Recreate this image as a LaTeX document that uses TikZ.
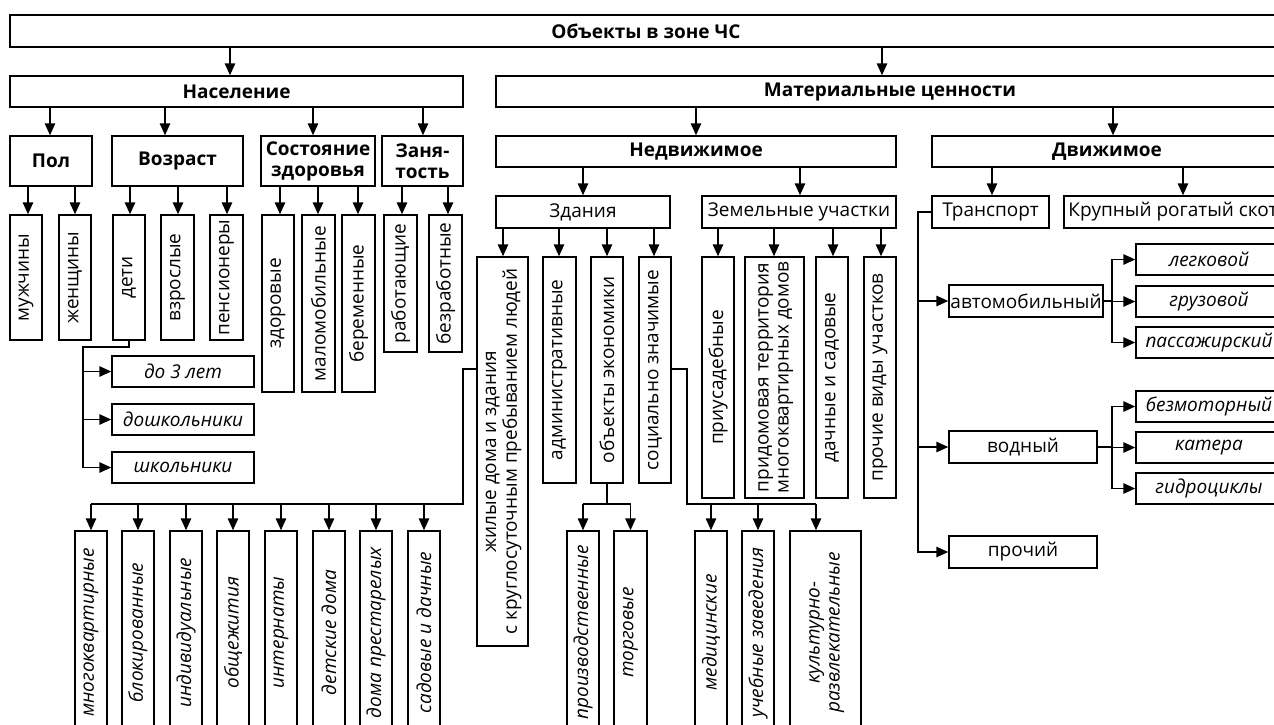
\documentclass[tikz,border=0pt]{standalone}
\usepackage{fontspec}
\setmainfont{Open Sans}
\usepackage{graphicx}
\usetikzlibrary{arrows.meta,calc}
\newcommand\bx[7]{\node[#6, minimum width={#4-#2}, minimum height={#5-#3}] (#1) at ({(#2+#4)/2},{(#3+#5)/2}) {#7};}
\newcommand\vt[1]{\rotatebox{90}{#1}}
\newcommand\vtt[2]{\rotatebox{90}{\begin{tabular}{@{}c@{}}#1\\#2\end{tabular}}}
\begin{document}
\begin{tikzpicture}[x=1pt,y=-1pt, font=\fontsize{19}{20}\selectfont,
 box/.style={draw, inner sep=0pt, line width=1.5pt, align=center},
 bb/.style={box, font=\fontsize{19}{21}\selectfont\bfseries},
 rb/.style={box},
 ib/.style={box, font=\fontsize{19}{20}\selectfont\itshape},
 arr/.style={-{Triangle[length=12pt,width=10.5pt]}, line width=1.5pt},
 ln/.style={line width=1.5pt}]
\useasboundingbox (0,0) rectangle (1274,724);
\clip (0,0) rectangle (1274,724);
% level 0-2
\bx{obj}{10}{15}{1282}{47}{bb}{Объекты в зоне ЧС}
\bx{nas}{10}{76}{463}{107}{bb}{Население}
\bx{mat}{496}{76}{1284}{107}{bb}{Материальные ценности}
\bx{pol}{10}{136}{92}{186}{bb}{Пол}
\bx{voz}{112}{136}{243}{186}{bb}{Возраст}
\bx{sost}{261}{136}{375}{186}{bb}{Состояние\\здоровья}
\bx{zan}{382}{136}{463}{186}{bb}{Заня-\\тость}
\bx{nedv}{496}{136}{896}{167}{bb}{Недвижимое}
\bx{dviz}{932}{136}{1282}{167}{bb}{Движимое}
\bx{zd}{496}{196}{670}{228}{rb}{Здания}
\bx{zem}{702}{196}{896}{228}{rb}{Земельные участки}
\bx{tr}{932}{196}{1049}{228}{rb}{Транспорт}
\bx{krs}{1064}{196}{1282}{228}{rb}{Крупный рогатый скот}
% population leaves
\bx{m1}{10}{215}{42}{340}{rb}{\vt{мужчины}}
\bx{m2}{59}{215}{91}{340}{rb}{\vt{женщины}}
\bx{a1}{113}{215}{145}{340}{rb}{\vt{дети}}
\bx{a2}{161}{215}{194}{340}{rb}{\vt{взрослые}}
\bx{a3}{210}{215}{243}{340}{rb}{\vt{пенсионеры}}
\bx{h1}{262}{215}{294}{392}{rb}{\vt{здоровые}}
\bx{h2}{302}{215}{335}{392}{rb}{\vt{маломобильные}}
\bx{h3}{342}{215}{375}{392}{rb}{\vt{беременные}}
\bx{e1}{384}{215}{417}{352}{rb}{\vt{работающие}}
\bx{e2}{429}{215}{462}{352}{rb}{\vt{безработные}}
\bx{d1}{112}{356}{254}{387}{ib}{до 3 лет}
\bx{d2}{112}{404}{254}{435}{ib}{дошкольники}
\bx{d3}{112}{452}{254}{483}{ib}{школьники}
% buildings
\bx{b1}{477}{257}{528}{646}{rb}{\vtt{жилые дома и здания}{с круглосуточным пребыванием людей}}
\bx{b2}{543}{257}{576}{483}{rb}{\vt{административные}}
\bx{b3}{591}{257}{623}{483}{rb}{\vt{объекты экономики}}
\bx{b4}{639}{257}{671}{483}{rb}{\vt{социально значимые}}
\bx{z1}{702}{257}{734}{498}{rb}{\vt{приусадебные}}
\bx{z2}{745}{257}{804}{498}{rb}{\vtt{придомовая территория}{многоквартирных домов}}
\bx{z3}{816}{257}{848}{498}{rb}{\vt{дачные и садовые}}
\bx{z4}{864}{257}{896}{498}{rb}{\vt{прочие виды участков}}
% bottom row
\bx{l1}{75}{531}{107}{734}{ib}{\vt{многоквартирные}}
\bx{l2}{122}{531}{154}{734}{ib}{\vt{блокированные}}
\bx{l3}{170}{531}{202}{734}{ib}{\vt{индивидуальные}}
\bx{l4}{217}{531}{249}{734}{ib}{\vt{общежития}}
\bx{l5}{265}{531}{297}{734}{ib}{\vt{интернаты}}
\bx{l6}{313}{531}{345}{734}{ib}{\vt{детские дома}}
\bx{l7}{360}{531}{392}{734}{ib}{\vt{дома престарелых}}
\bx{l8}{408}{531}{440}{734}{ib}{\vt{садовые и дачные}}
\bx{p1}{567}{531}{599}{734}{ib}{\vt{производственные}}
\bx{p2}{614}{531}{647}{734}{ib}{\vt{торговые}}
\bx{s1}{695}{531}{727}{734}{ib}{\vt{медицинские}}
\bx{s2}{742}{531}{774}{734}{ib}{\vt{учебные заведения}}
\bx{s3}{790}{531}{861}{734}{ib}{\vtt{культурно-}{развлекательные}}
% transport
\bx{av}{949}{285}{1103}{317}{rb}{автомобильный}
\bx{vo}{949}{431}{1097}{463}{rb}{водный}
\bx{pr}{949}{536}{1097}{568}{rb}{прочий}
\bx{c1}{1136}{244}{1282}{275}{ib}{легковой}
\bx{c2}{1136}{286}{1282}{317}{ib}{грузовой}
\bx{c3}{1136}{327}{1282}{358}{ib}{пассажирский}
\bx{w1}{1136}{391}{1282}{422}{ib}{безмоторный}
\bx{w2}{1136}{432}{1282}{463}{ib}{катера}
\bx{w3}{1136}{473}{1282}{504}{ib}{гидроциклы}
% straight tree arrows
\foreach \p/\c/\x in {obj/nas/230, obj/mat/882, nas/pol/50, nas/voz/165, nas/sost/313, nas/zan/423,
  pol/m1/28, pol/m2/75, voz/a1/130, voz/a2/178, voz/a3/227, sost/h1/280, sost/h2/318, sost/h3/358,
  zan/e1/402, zan/e2/448, mat/nedv/696, mat/dviz/1113, nedv/zd/583, nedv/zem/800, dviz/tr/992, dviz/krs/1183,
  zd/b1/503, zd/b2/559, zd/b3/607, zd/b4/654, zem/z1/718, zem/z2/774, zem/z3/833, zem/z4/881}
  \draw[arr] (\p.south -| \x,0) -- (\c.north -| \x,0);
% children of дети
\coordinate (dk) at (83,347);
\foreach \c in {d1,d2,d3} \draw[arr] (a1.south) |- (dk) |- (\c.west);
% residential
\coordinate (j1) at (463,369);
\coordinate (j2) at (463,504);
\draw[ln] (b1.west |- j1) -- (j1) -- (j2) -- (j2 -| l1.north);
\foreach \c in {l1,l2,l3,l4,l5,l6,l7,l8} \draw[arr] (j2 -| \c.north) -- (\c.north);
% economy
\draw[ln] (b3.south) -- (b3.south |- j2);
\draw[ln] (j2 -| p1.north) -- (j2 -| p2.north);
\foreach \c in {p1,p2} \draw[arr] (j2 -| \c.north) -- (\c.north);
% social
\coordinate (k1) at (687,369);
\coordinate (k2) at (687,504);
\draw[ln] (b4.east |- k1) -- (k1) -- (k2) -- (k2 -| 816,0);
\foreach \c in {s1,s2} \draw[arr] (k2 -| \c.north) -- (\c.north);
\draw[arr] (k2 -| 816,0) -- (s3.north -| 816,0);
% transport
\coordinate (t1) at (918,212);
\foreach \c in {av,vo,pr} \draw[arr] (tr.west) -- (t1) |- (\c.west);
\coordinate (q1) at (1112,0);
\foreach \c in {c1,c2,c3} \draw[arr] (av.east) -- (av.east -| q1) |- (\c.west);
\foreach \c in {w1,w2,w3} \draw[arr] (vo.east) -- (vo.east -| q1) |- (\c.west);
\end{tikzpicture}
\end{document}
